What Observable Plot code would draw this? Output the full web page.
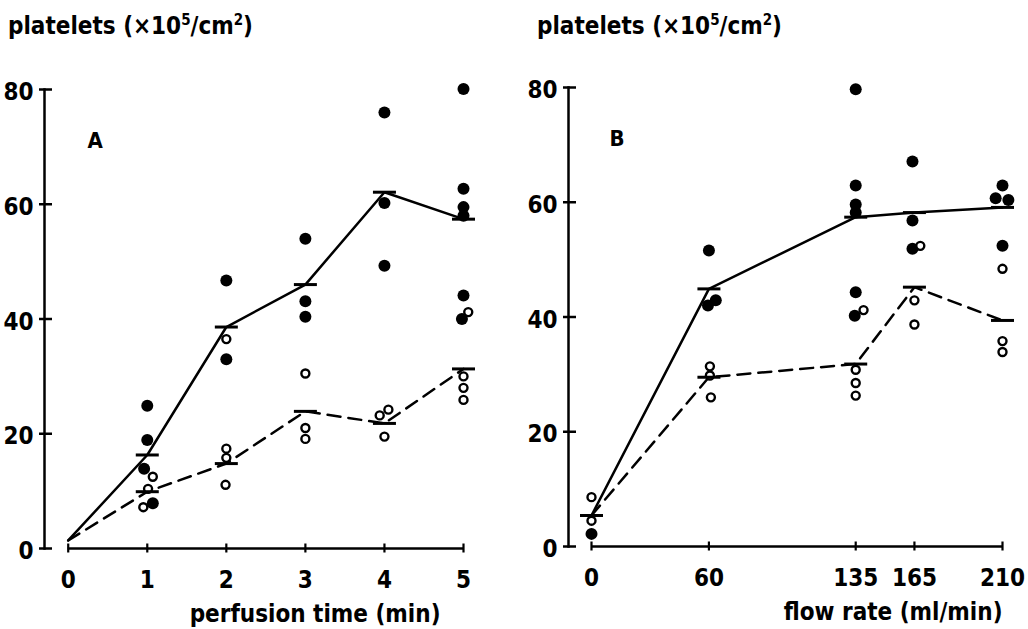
<!DOCTYPE html>
<html>
<head>
<meta charset="utf-8">
<script src="https://cdn.jsdelivr.net/npm/d3@7"></script>
<script src="https://cdn.jsdelivr.net/npm/@observablehq/plot@0.6"></script>
<style>
  html, body { margin: 0; padding: 0; background: #fff; }
  body { width: 1028px; height: 629px; position: relative; overflow: hidden;
         font-family: "DejaVu Sans Condensed", "DejaVu Sans", sans-serif; font-weight: bold; color: #000; }
  .title { position: absolute; top: 14px; font-size: 24px; line-height: 24px; white-space: nowrap; }
  .title sup { font-size: 15px; vertical-align: 9px; line-height: 0; }
  .panel { position: absolute; top: 60px; }
</style>
</head>
<body>
<div class="title" style="left:8px">platelets (×10<sup>5</sup>/cm<sup>2</sup>)</div>
<div class="title" style="left:537px">platelets (×10<sup>5</sup>/cm<sup>2</sup>)</div>
<div class="panel" id="A" style="left:0px"></div>
<div class="panel" id="B" style="left:514px"></div>
<script>
// ---------- shared ----------
const yTicks = [0, 20, 40, 60, 80];

// ---------- Panel A: perfusion time ----------
const timeA = [0, 1, 2, 3, 4, 5];
const meanFilledA = [1.4, 16.3, 38.6, 46.0, 62.1, 57.4];
const meanOpenA   = [1.4,  9.9, 14.8, 23.9, 21.8, 31.3];
const filledAx = [1, 1, 0.96, 1.07, 2, 2, 3, 3, 3, 4, 4, 4, 5, 5, 5, 5, 5, 4.98];
const filledAy = [24.9, 18.9, 13.9, 7.9, 46.7, 33.0, 54.0, 43.1, 40.4, 76.0, 60.2, 49.3, 80.1, 62.7, 59.5, 58.0, 44.1, 40.0];
const openAx = [1.07, 1.01, 0.95, 2, 2, 2, 1.99, 3, 3, 3, 3.94, 4.05, 4, 5.06, 5, 5, 5];
const openAy = [12.5, 10.4, 7.2, 36.5, 17.4, 15.8, 11.1, 30.5, 21.0, 19.1, 23.2, 24.2, 19.5, 41.2, 30.0, 28.0, 25.9];

// ---------- Panel B: flow rate ----------
const flowB = [0, 60, 135, 165, 210];
const meanFilledB = [5.4, 44.9, 57.4, 58.2, 59.1];
const meanOpenB   = [5.4, 29.5, 31.8, 45.2, 39.4];
const filledBx = [0, 60, 63.5, 59.5, 135, 135, 135, 135, 135, 134.5, 164, 164, 164, 210, 206.5, 213, 210];
const filledBy = [2.2, 51.6, 42.9, 42.0, 79.7, 62.9, 59.6, 58.2, 44.3, 40.2, 67.1, 56.8, 51.9, 62.9, 60.7, 60.4, 52.4];
const openBx = [0, 0, 60.5, 60.5, 61, 139, 135, 135, 135, 168, 165, 165, 210, 210, 210];
const openBy = [8.6, 4.5, 31.4, 29.8, 26.0, 41.2, 30.8, 28.5, 26.3, 52.4, 42.9, 38.7, 48.4, 35.8, 33.9];

const zip = (xs, ys) => xs.map((x, i) => ({x, y: ys[i]}));
const hbar = {draw(ctx, size) { const w = Math.sqrt(size / Math.PI); ctx.moveTo(-w, 0); ctx.lineTo(w, 0); }};

function panel({xs, meanF, meanO, fx, fy, ox, oy, letter, xlabel, letterDx, letterDy, labelDx, barFilter,
                width, height, marginTop, marginBottom, marginLeft, marginRight, xDomain}) {
  const mF = zip(xs, meanF), mO = zip(xs, meanO);
  return Plot.plot({
    width, height, marginTop, marginBottom, marginLeft, marginRight,
    x: {domain: xDomain},
    y: {domain: [0, 80]},
    style: {fontFamily: '"DejaVu Sans Condensed", "DejaVu Sans", sans-serif', fontWeight: "bold", fontSize: "24px", color: "#000", background: "#fff"},
    marks: [
      Plot.frame({anchor: "left", strokeWidth: 2.5}),
      Plot.ruleY([0], {x1: d3.min(xs), x2: d3.max(xs), strokeWidth: 2.3}),
      Plot.axisY({ticks: yTicks, tickSize: 13, dx: 8, fill: "none", strokeWidth: 2.5}),
      Plot.axisY({ticks: yTicks, tickSize: 0, tickPadding: 11, dy: 3, label: null, tickFormat: d3.format("d")}),
      Plot.axisX({ticks: xs, tickSize: 9, dy: -4.5, fill: "none", strokeWidth: 2.2}),
      Plot.axisX({ticks: xs, tickSize: 0, tickPadding: 22, label: null, tickFormat: d3.format("d")}),
      Plot.line(mF, {x: "x", y: "y", stroke: "#000", strokeWidth: 2.5}),
      Plot.line(mO, {x: "x", y: "y", stroke: "#000", strokeWidth: 2.5, strokeDasharray: "13,8"}),
      Plot.dot(zip(fx, fy), {x: "x", y: "y", r: 6, fill: "#000", stroke: "none"}),
      Plot.dot(zip(ox, oy), {x: "x", y: "y", r: 4, fill: "#fff", stroke: "#000", strokeWidth: 2.4}),
      Plot.dot(mF.filter(barFilter), {x: "x", y: "y", symbol: hbar, r: 11.5, fill: "none", stroke: "#000", strokeWidth: 3}),
      Plot.dot(mO.filter(barFilter), {x: "x", y: "y", symbol: hbar, r: 11.5, fill: "none", stroke: "#000", strokeWidth: 3}),
      Plot.text([letter], {frameAnchor: "top-left", dx: letterDx, dy: letterDy, lineAnchor: "top", textAnchor: "start", fontSize: 22}),
      Plot.text([xlabel], {frameAnchor: "bottom-right", dx: labelDx, dy: 73, lineAnchor: "bottom", textAnchor: "end"})
    ]
  });
}

document.getElementById("A").append(panel({
  xs: timeA, meanF: meanFilledA, meanO: meanOpenA, fx: filledAx, fy: filledAy, ox: openAx, oy: openAy,
  letter: "A", xlabel: "perfusion time (min)", letterDx: 43, letterDy: 43, labelDx: -23,
  barFilter: d => d.x > 0,
  width: 514, height: 569, marginTop: 29, marginBottom: 81, marginLeft: 44, marginRight: 51, xDomain: [-0.3, 5]
}));
document.getElementById("B").append(panel({
  xs: flowB, meanF: meanFilledB, meanO: meanOpenB, fx: filledBx, fy: filledBy, ox: openBx, oy: openBy,
  letter: "B", xlabel: "flow rate (ml/min)", letterDx: 41, letterDy: 43, labelDx: 0,
  barFilter: d => true,
  width: 514, height: 569, marginTop: 27, marginBottom: 83, marginLeft: 54, marginRight: 26, xDomain: [-11.75, 210]
}));
</script>
</body>
</html>
